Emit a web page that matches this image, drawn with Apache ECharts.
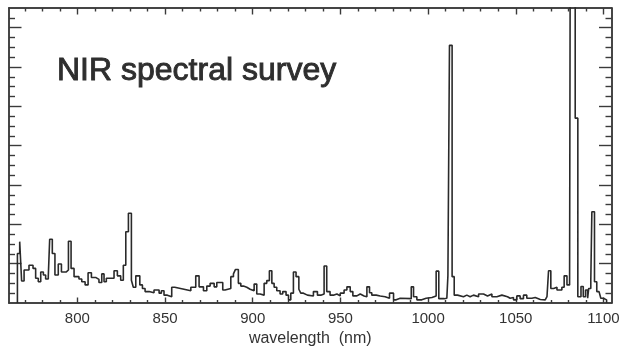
<!DOCTYPE html>
<html>
<head>
<meta charset="utf-8">
<script src="https://cdn.jsdelivr.net/npm/echarts@6/dist/echarts.min.js"></script>
<style>html,body{margin:0;padding:0;background:#fff}#c{width:620px;height:347px}</style>
</head>
<body>
<div id="c"></div>
<script>
// step edges (nm) and intensity (arbitrary units, y axis 0..75)
var wavelength = [765.8,765.8,767.1,768.2,769.6,772.4,774.7,776.2,777.7,779.1,780.6,781.9,783.4,784.2,785.7,787.2,789.1,790.9,793.7,794.9,796.4,798.1,800.9,802.5,804.4,806.1,808.0,810.4,812.3,813.9,815.2,816.5,820.9,822.8,824.7,826.2,827.6,829.1,830.8,831.9,833.3,835.6,837.1,838.6,840.9,843.7,846.6,847.9,849.4,851.3,853.8,855.5,860.8,864.7,867.5,869.4,871.9,873.8,875.7,878.0,879.5,882.9,884.2,887.5,889.0,890.1,891.8,893.2,894.7,896.6,898.5,900.8,902.3,904.2,906.5,908.0,909.5,910.9,912.2,913.7,915.6,917.1,919.0,920.4,921.7,923.2,924.7,926.3,927.4,928.9,931.2,934.6,936.9,938.8,940.7,942.2,944.1,946.0,948.0,949.9,952.1,953.7,955.6,957.1,959.4,961.3,963.5,965.1,966.6,967.9,970.4,972.7,975.5,978.0,980.3,981.8,984.1,990.4,991.7,993.6,996.4,998.9,1002.2,1004.6,1006.1,1009.2,1010.7,1011.3,1012.2,1013.7,1014.9,1016.8,1020.2,1022.1,1024.0,1025.9,1028.8,1031.6,1033.9,1036.4,1039.2,1042.1,1045.3,1046.8,1048.7,1050.6,1052.5,1054.4,1056.3,1059.2,1061.1,1064.0,1066.8,1067.8,1068.7,1070.0,1071.6,1073.5,1076.3,1077.6,1079.2,1080.7,1081.1,1083.9,1085.4,1087.2,1088.5,1089.8,1091.0,1091.6,1092.8,1093.4,1094.9,1096.2,1097.5,1098.5,1100.0,1101.8,1101.8];
var intensity = [0,12.6,15.6,5.6,8.4,9.6,8.8,6.3,5.4,7.9,7.1,6.1,6.7,16.2,12.6,7.1,9.9,7.9,8.4,15.7,8.8,6.7,6.1,5.4,4.6,7.7,6.5,6.0,5.2,7.4,5.4,6.3,8.2,6.9,5.8,9.6,18.1,22.8,5.8,4.0,6.9,4.6,3.7,2.9,2.6,3.3,2.5,3.1,2.0,1.6,4.0,3.5,3.1,4.0,6.9,4.1,3.1,4.3,5.0,4.1,5.2,3.3,3.7,6.7,7.4,8.5,5.0,4.3,4.0,3.5,3.1,4.8,2.3,2.0,5.0,5.7,8.2,5.0,4.0,3.1,2.3,2.9,2.0,0.8,2.5,7.9,6.7,3.5,2.5,2.0,1.8,2.9,2.0,2.3,9.4,2.9,2.0,2.3,1.8,2.5,3.3,4.1,2.9,1.8,2.3,1.8,1.6,4.1,2.6,2.0,1.8,1.6,1.2,2.5,0.8,1.2,1.1,4.1,1.6,0.8,1.2,1.4,1.8,8.1,1.1,1.2,0.8,6.9,65.5,6.7,2.0,1.6,2.0,1.6,2.0,1.6,2.3,1.8,2.3,1.6,2.0,1.6,1.2,1.4,0.8,1.8,1.1,2.0,1.2,1.4,0.9,0.8,1.2,1.6,8.2,3.7,4.0,3.3,4.0,6.9,4.6,4.1,100,47,1.6,4.2,1.6,3.3,1.2,3.7,5.8,23.2,5.4,2.9,2.5,1.2,0.8,0.8,0];
var xLabelTicks = [800,850,900,950,1000,1050,1100];
var xMinorTicks = [770,780,790,810,820,830,840,860,870,880,890,910,920,930,940,960,970,980,990,1010,1020,1030,1040,1060,1070,1080,1090];
var yMajorTicks = [10,20,30,40,50,60,70];
var yMinorTicks = [2.5,5,7.5,12.5,15,17.5,22.5,25,27.5,32.5,35,37.5,42.5,45,47.5,52.5,55,57.5,62.5,65,67.5,72.5];
var titleText = 'NIR spectral survey';
var xName = 'wavelength  (nm)';

var X_MIN = 761, X_MAX = 1104.6, Y_MIN = 0, Y_MAX = 75;
var C = '#3a3a3a';
function ax(kind, pos, vals, len, extra) {
  var o = {
    type: 'value', position: pos,
    min: kind === 'x' ? X_MIN : Y_MIN, max: kind === 'x' ? X_MAX : Y_MAX,
    axisLine: {show: true, onZero: false, lineStyle: {color: C, width: 1.5}},
    axisTick: {show: true, inside: true, length: len, customValues: vals, lineStyle: {color: C, width: 1.4}},
    axisLabel: {show: false},
    splitLine: {show: false}
  };
  if (extra) for (var k in extra) o[k] = extra[k];
  return o;
}
var pts = wavelength.map(function (w, i) { return [w, intensity[i]]; });
var chart = echarts.init(document.getElementById('c'), null, {renderer: 'canvas'});
chart.setOption({
  animation: false,
  backgroundColor: '#fff',
  title: {text: titleText, left: 57, top: 55, padding: 0,
    textStyle: {fontSize: 32, fontWeight: 'normal', color: '#2e2e2e', fontFamily: 'Liberation Sans',
      textBorderColor: '#2e2e2e', textBorderWidth: 0.9}},
  grid: {left: 9, right: 8.5, top: 8, bottom: 44, containLabel: false, outerBoundsMode: 'none'},
  xAxis: [
    ax('x', 'bottom', xLabelTicks, 5.5, {
      name: xName, nameLocation: 'middle', nameGap: 23,
      nameTextStyle: {fontSize: 16, color: '#333', fontFamily: 'Liberation Sans'},
      axisLabel: {show: true, customValues: xLabelTicks, margin: 8, fontSize: 15, color: '#333',
        fontFamily: 'Liberation Sans', formatter: function (v) { return String(v); }}
    }),
    ax('x', 'bottom', xMinorTicks, 3),
    ax('x', 'top', xLabelTicks, 6.5),
    ax('x', 'top', xMinorTicks, 3.5)
  ],
  yAxis: [
    ax('y', 'left', yMajorTicks, 12.5),
    ax('y', 'left', yMinorTicks, 6),
    ax('y', 'right', yMajorTicks, 12.5),
    ax('y', 'right', yMinorTicks, 6)
  ],
  series: [{
    type: 'line', step: 'end', data: pts, xAxisIndex: 0, yAxisIndex: 0,
    showSymbol: false, symbol: 'none', clip: true,
    lineStyle: {color: '#2a2a2a', width: 1.6}
  }]
});
</script>
</body>
</html>
